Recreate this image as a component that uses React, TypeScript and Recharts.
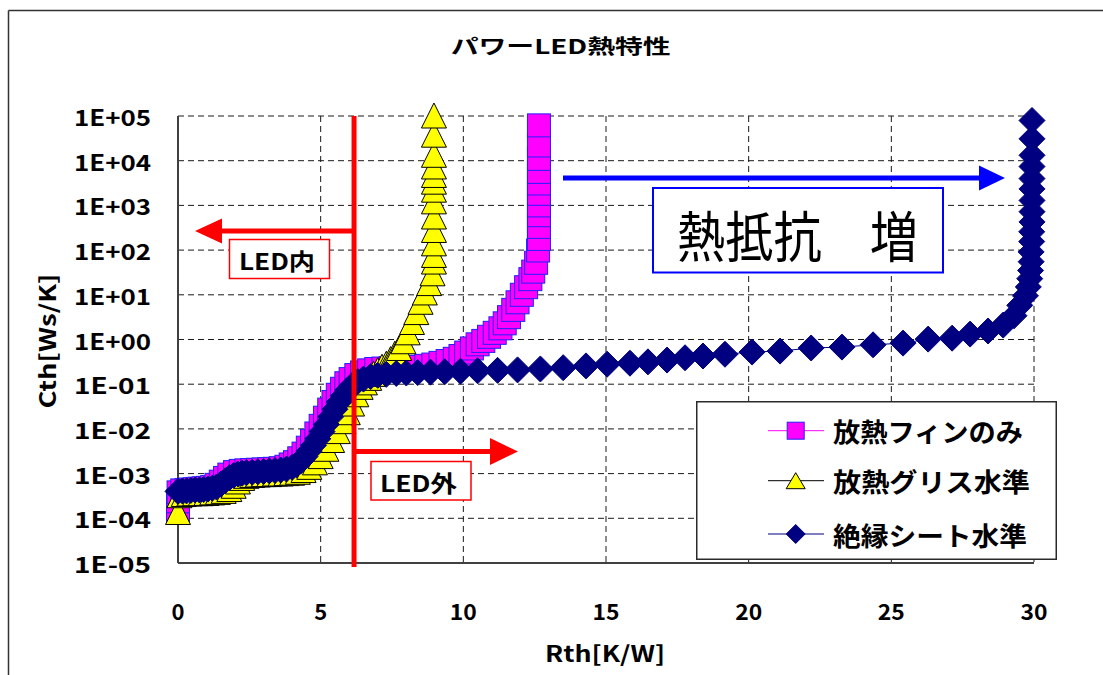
import React from 'react';
import { ScatterChart, Scatter, XAxis, YAxis, CartesianGrid, Legend } from 'recharts';

const W = 1103;
const H = 675;
const PLOT = { left: 178, top: 116, right: 1034, bottom: 563 };
const FONT = "'Noto Sans CJK JP', 'Noto Sans', sans-serif";

const chartTitle = 'パワーLED熱特性';
const xAxisTitle = 'Rth[K/W]';
const yAxisTitle = 'Cth[Ws/K]';

const xTicks = [0, 5, 10, 15, 20, 25, 30];
const xTickLabels = ['0', '5', '10', '15', '20', '25', '30'];
const yTicks = [1e-5, 1e-4, 1e-3, 1e-2, 1e-1, 1e0, 1e1, 1e2, 1e3, 1e4, 1e5];
const yTickLabels = ['1E-05', '1E-04', '1E-03', '1E-02', '1E-01', '1E+00', '1E+01', '1E+02', '1E+03', '1E+04', '1E+05'];

const seriesNames = ['放熱フィンのみ', '放熱グリス水準', '絶縁シート水準'];

// 放熱フィンのみ (magenta squares)
const finRth = [
  0.0, 0.0, 0.02, 0.15, 0.3, 0.45, 0.6, 0.75, 0.9, 1.05, 1.2, 1.35, 1.5, 1.65, 1.8, 2.0, 2.2, 2.4, 2.6, 2.8,
  3.0, 3.2, 3.4, 3.6, 3.8, 3.95, 4.1, 4.25, 4.4, 4.55, 4.7, 4.85, 5.0, 5.15, 5.3, 5.45, 5.6, 5.75, 5.9,
  6.05, 6.25, 6.45, 6.7, 6.95, 7.2, 7.45, 7.7, 7.95, 8.2, 8.45, 8.7, 8.95, 9.2, 9.45, 9.7, 9.9, 10.1, 10.3,
  10.5, 10.7, 10.9, 11.1, 11.3, 11.45, 11.6, 11.75, 11.9, 12.05, 12.2, 12.35, 12.45, 12.55, 12.62,
  12.65, 12.65, 12.65, 12.65, 12.65, 12.65, 12.65, 12.65, 12.65, 12.65,
];
const finCth = [
  1.4e-4, 2.4e-4, 3.8e-4, 4.2e-4, 4.3e-4, 4.4e-4, 4.5e-4, 4.6e-4, 4.7e-4, 4.8e-4, 5.0e-4, 5.6e-4, 6.6e-4, 8.0e-4, 9.5e-4, 1.08e-3, 1.15e-3, 1.18e-3, 1.2e-3, 1.22e-3,
  1.24e-3, 1.26e-3, 1.28e-3, 1.32e-3, 1.42e-3, 1.6e-3, 1.8e-3, 2.2e-3, 2.8e-3, 3.8e-3, 5.4e-3, 7.9e-3, 1.17e-2, 1.78e-2, 2.7e-2, 4.0e-2, 5.8e-2, 7.9e-2, 0.105,
  0.13, 0.16, 0.183, 0.204, 0.219, 0.224, 0.229, 0.234, 0.234, 0.24, 0.245, 0.257, 0.275, 0.3, 0.33, 0.37, 0.427, 0.51, 0.63,
  0.78, 0.93, 1.15, 1.41, 1.78, 2.3, 3.16, 4.6, 6.8, 10, 14.8, 22.4, 33, 52, 98,
  178, 331, 603, 1000, 1820, 3090, 5620, 11000, 21900, 61700,
];

// 放熱グリス水準 (yellow triangles)
const greaseRth = [
  0.0, 0.05, 0.2, 0.4, 0.6, 0.8, 1.0, 1.2, 1.4, 1.6, 1.8, 1.95, 2.1, 2.25, 2.4, 2.6, 2.8, 3.0, 3.2, 3.4,
  3.6, 3.8, 4.0, 4.2, 4.4, 4.6, 4.8, 5.0, 5.2, 5.4, 5.6, 5.8, 5.95, 6.1, 6.25, 6.4, 6.55, 6.7, 6.85, 7.0,
  7.15, 7.3, 7.45, 7.6, 7.75, 7.9, 8.05, 8.2, 8.35, 8.5, 8.65, 8.8, 8.92,
  8.97, 8.97, 8.97, 8.97, 8.97, 8.97, 8.97, 8.97, 8.97, 8.97, 8.97, 8.97, 8.97,
];
const greaseCth = [
  1.35e-4, 3.2e-4, 3.4e-4, 3.5e-4, 3.55e-4, 3.55e-4, 3.6e-4, 3.7e-4, 3.8e-4, 4.0e-4, 4.4e-4, 5.2e-4, 6.5e-4, 7.8e-4, 8.7e-4, 9.1e-4, 9.3e-4, 9.5e-4, 9.5e-4, 9.8e-4,
  9.8e-4, 1.0e-3, 1.02e-3, 1.07e-3, 1.17e-3, 1.38e-3, 1.74e-3, 2.4e-3, 3.5e-3, 5.5e-3, 8.7e-3, 1.45e-2, 2.3e-2, 3.6e-2, 5.8e-2, 8.5e-2, 0.107, 0.135, 0.166, 0.2,
  0.24, 0.28, 0.355, 0.47, 0.63, 0.89, 1.41, 2.4, 4.0, 6.8, 11, 17.8, 29.5,
  54, 76, 138, 275, 550, 1200, 2190, 3310, 4680, 7240, 13200, 37200, 100000,
];

// 絶縁シート水準 (navy diamonds)
const sheetRth = [
  0.0, 0.15, 0.3, 0.45, 0.6, 0.75, 0.9, 1.05, 1.2, 1.35, 1.5, 1.65, 1.8, 1.95, 2.1, 2.25, 2.4, 2.6, 2.8, 3.0,
  3.2, 3.4, 3.6, 3.8, 4.0, 4.15, 4.3, 4.45, 4.6, 4.75, 4.9, 5.05, 5.2, 5.35, 5.5, 5.65, 5.8, 5.95, 6.1, 6.3,
  6.5, 6.75, 7.0, 7.3, 7.65, 8.0, 8.4, 8.85, 9.35, 9.9, 10.5, 11.2, 11.9, 12.7, 13.5, 14.3,
  15.04, 15.84, 16.47, 17.14, 17.77, 18.4, 19.17, 20.12, 21.1, 22.19, 23.27, 24.36, 25.41, 26.29, 27.13,
  27.76, 28.39, 28.92, 29.3, 29.5, 29.7, 29.8, 29.85, 29.88, 29.9, 29.9, 29.92, 29.92, 29.93, 29.93,
  29.93, 29.93, 29.93, 29.93, 29.93, 29.93, 29.93,
];
const sheetCth = [
  4.0e-4, 4.1e-4, 4.1e-4, 4.2e-4, 4.3e-4, 4.3e-4, 4.4e-4, 4.5e-4, 4.7e-4, 5.0e-4, 5.8e-4, 6.9e-4, 8.1e-4, 9.1e-4, 9.8e-4, 1.02e-3, 1.05e-3, 1.07e-3, 1.1e-3, 1.12e-3,
  1.15e-3, 1.17e-3, 1.2e-3, 1.26e-3, 1.38e-3, 1.58e-3, 1.9e-3, 2.4e-3, 3.2e-3, 4.3e-3, 6.0e-3, 8.7e-3, 1.26e-2, 1.86e-2, 2.75e-2, 4.0e-2, 5.5e-2, 7.4e-2, 9.3e-2, 0.115,
  0.13, 0.148, 0.158, 0.166, 0.174, 0.178, 0.182, 0.186, 0.19, 0.195, 0.2, 0.204, 0.209, 0.219, 0.234, 0.257,
  0.28, 0.295, 0.316, 0.347, 0.39, 0.427, 0.468, 0.525, 0.55, 0.646, 0.676, 0.76, 0.83, 1.02, 1.07,
  1.32, 1.55, 2.1, 3.4, 5.8, 9.5, 15, 23, 35, 55, 91, 155, 257, 427, 724,
  1290, 2340, 3980, 7410, 13200, 30900, 79400,
];

const ledBoundaryRth = 6.17;

const finData = finRth.map((x, i) => ({ x, y: finCth[i] }));
const greaseData = greaseRth.map((x, i) => ({ x, y: greaseCth[i] }));
const sheetData = sheetRth.map((x, i) => ({ x, y: sheetCth[i] }));

const SquareMark = (p: any) => {
  if (p.cx == null || p.cy == null) return <g />;
  return <rect x={p.cx - 11.5} y={p.cy - 11.5} width={23} height={23} fill="#ff00ff" stroke="#2020ff" strokeWidth={1} />;
};
const TriMark = (p: any) => {
  if (p.cx == null || p.cy == null) return <g />;
  const { cx, cy } = p;
  return (
    <polygon
      points={`${cx},${cy - 13} ${cx + 12.5},${cy + 12} ${cx - 12.5},${cy + 12}`}
      fill="#ffff00"
      stroke="#000000"
      strokeWidth={1}
    />
  );
};
const DiaMark = (p: any) => {
  if (p.cx == null || p.cy == null) return <g />;
  const { cx, cy } = p;
  return (
    <polygon
      points={`${cx},${cy - 13} ${cx + 13},${cy} ${cx},${cy + 13} ${cx - 13},${cy}`}
      fill="#000080"
      stroke="#000080"
      strokeWidth={1}
    />
  );
};

const YTick = (props: any) => {
  const { y, payload } = props;
  const idx = yTicks.findIndex((v) => Math.abs(Math.log10(v) - Math.log10(payload.value)) < 1e-6);
  const label = idx >= 0 ? yTickLabels[idx] : String(payload.value);
  return (
    <text
      x={PLOT.left - 27}
      y={y}
      textAnchor="end"
      dominantBaseline="central"
      fontFamily={FONT}
      fontWeight={700}
      fontSize={22}
      fill="#000"
      textLength={77}
      lengthAdjust="spacingAndGlyphs"
    >
      {label}
    </text>
  );
};

const XTick = (props: any) => {
  const { x, payload } = props;
  const idx = xTicks.indexOf(payload.value);
  const label = idx >= 0 ? xTickLabels[idx] : String(payload.value);
  return (
    <text
      x={x}
      y={609.5}
      textAnchor="middle"
      dominantBaseline="central"
      fontFamily={FONT}
      fontWeight={700}
      fontSize={22}
      fill="#000"
      textLength={label.length * 14 - 1}
      lengthAdjust="spacingAndGlyphs"
    >
      {label}
    </text>
  );
};

const legendEntries = [
  { name: seriesNames[0], color: '#ff00ff', kind: 'square', textLen: 190 },
  { name: seriesNames[1], color: '#000000', kind: 'triangle', textLen: 197 },
  { name: seriesNames[2], color: '#000080', kind: 'diamond', textLen: 194 },
];
const legendRowY = [29.7, 79.7, 133];

const renderLegend = () => (
  <svg width={361} height={159} style={{ display: 'block' }}>
    <rect x={0.75} y={0.75} width={359.5} height={157.5} fill="#ffffff" stroke="#2a2a2a" strokeWidth={1.5} />
    {legendEntries.map((e, i) => {
      const cy = legendRowY[i];
      const cx = 99.7;
      let marker;
      if (e.kind === 'square') {
        marker = <rect x={cx - 8.5} y={cy - 8.5} width={17} height={17} fill="#ff00ff" stroke="#2020ff" strokeWidth={1} />;
      } else if (e.kind === 'triangle') {
        marker = (
          <polygon points={`${cx},${cy - 8} ${cx + 9.5},${cy + 8} ${cx - 9.5},${cy + 8}`} fill="#ffff00" stroke="#000" strokeWidth={1} />
        );
      } else {
        marker = (
          <polygon points={`${cx},${cy - 9.5} ${cx + 9.5},${cy} ${cx},${cy + 9.5} ${cx - 9.5},${cy}`} fill="#000080" stroke="#000080" strokeWidth={1} />
        );
      }
      return (
        <g key={e.name}>
          <line x1={72} y1={cy} x2={128} y2={cy} stroke={e.color} strokeWidth={1} />
          {marker}
          <text
            x={137}
            y={cy}
            dominantBaseline="central"
            fontFamily={FONT}
            fontWeight={700}
            fontSize={26}
            fill="#000"
            textLength={e.textLen}
            lengthAdjust="spacingAndGlyphs"
          >
            {e.name}
          </text>
        </g>
      );
    })}
  </svg>
);

export default function App() {
  const xLed = PLOT.left + (ledBoundaryRth / 30) * (PLOT.right - PLOT.left);
  return (
    <div style={{ position: 'fixed', left: 0, top: 0, width: W, height: H, overflow: 'hidden', background: '#ffffff' }}>
      <ScatterChart
        width={W}
        height={H}
        margin={{ top: PLOT.top, right: W - PLOT.right, left: 0, bottom: 52 }}
      >
        <CartesianGrid stroke="#1a1a1a" strokeDasharray="6 4" strokeWidth={1} />
        <XAxis
          type="number"
          dataKey="x"
          domain={[0, 30]}
          ticks={xTicks}
          height={H - PLOT.bottom - 52}
          tick={<XTick />}
          tickLine={false}
          tickSize={0}
          tickMargin={0}
          axisLine={{ stroke: '#404040', strokeWidth: 2 }}
          interval={0}
        />
        <YAxis
          type="number"
          dataKey="y"
          scale="log"
          domain={[1e-5, 1e5]}
          ticks={yTicks}
          width={PLOT.left}
          tick={<YTick />}
          tickLine={false}
          tickSize={0}
          tickMargin={0}
          axisLine={{ stroke: '#404040', strokeWidth: 2 }}
          interval={0}
        />
        <YAxis
          yAxisId="right"
          orientation="right"
          type="number"
          domain={[0, 1]}
          width={0}
          tick={false}
          tickLine={false}
          axisLine={{ stroke: '#8a8a8a', strokeWidth: 1.5 }}
        />
        <Legend
          layout="vertical"
          align="center"
          verticalAlign="middle"
          content={renderLegend}
          wrapperStyle={{ left: 696, top: 401, width: 361, height: 159 }}
        />
        <Scatter
          name={seriesNames[0]}
          data={finData}
          shape={SquareMark}
          line={{ stroke: '#ff00ff', strokeWidth: 1 }}
          lineType="joint"
          isAnimationActive={false}
        />
        <Scatter
          name={seriesNames[1]}
          data={greaseData}
          shape={TriMark}
          line={{ stroke: '#000000', strokeWidth: 1 }}
          lineType="joint"
          isAnimationActive={false}
        />
        <Scatter
          name={seriesNames[2]}
          data={sheetData}
          shape={DiaMark}
          line={{ stroke: '#000080', strokeWidth: 1 }}
          lineType="joint"
          isAnimationActive={false}
        />
      </ScatterChart>
      <svg width={W} height={H} style={{ position: 'absolute', left: 0, top: 0, pointerEvents: 'none' }}>
        <line x1={8.5} y1={10.5} x2={W} y2={10.5} stroke="#333" strokeWidth={1.5} />
        <line x1={8.5} y1={10.5} x2={8.5} y2={H} stroke="#333" strokeWidth={1.5} />
        <text
          x={560.7}
          y={45}
          textAnchor="middle"
          dominantBaseline="central"
          fontFamily={FONT}
          fontWeight={700}
          fontSize={20}
          fill="#000"
          textLength={220}
          lengthAdjust="spacingAndGlyphs"
        >
          {chartTitle}
        </text>
        <text
          transform="translate(46,341) rotate(-90)"
          textAnchor="middle"
          dominantBaseline="central"
          fontFamily={FONT}
          fontWeight={700}
          fontSize={22}
          fill="#000"
          textLength={135}
          lengthAdjust="spacingAndGlyphs"
        >
          {yAxisTitle}
        </text>
        <text
          x={605}
          y={652}
          textAnchor="middle"
          dominantBaseline="central"
          fontFamily={FONT}
          fontWeight={700}
          fontSize={22}
          fill="#000"
          textLength={120}
          lengthAdjust="spacingAndGlyphs"
        >
          {xAxisTitle}
        </text>

        {/* LED boundary */}
        <line x1={xLed} y1={PLOT.top} x2={xLed} y2={PLOT.bottom + 4} stroke="#ff0000" strokeWidth={5} />
        {/* left red arrow */}
        <line x1={xLed} y1={231} x2={220} y2={231} stroke="#ff0000" strokeWidth={5} />
        <polygon points="195,231 222,218.5 222,243.5" fill="#ff0000" />
        {/* right red arrow */}
        <line x1={xLed} y1={451.5} x2={492} y2={451.5} stroke="#ff0000" strokeWidth={5} />
        <polygon points="518,451.5 490,438 490,465" fill="#ff0000" />
        {/* LED内 box */}
        <rect x={229.5} y={239.5} width={100} height={39} fill="#fff" stroke="#ff0000" strokeWidth={1.5} />
        <text
          x={277}
          y={260}
          textAnchor="middle"
          dominantBaseline="central"
          fontFamily={FONT}
          fontWeight={700}
          fontSize={23}
          fill="#000"
          textLength={76}
          lengthAdjust="spacingAndGlyphs"
        >
          LED内
        </text>
        {/* LED外 box */}
        <rect x={371} y={461.5} width={100} height={38.5} fill="#fff" stroke="#ff0000" strokeWidth={1.5} />
        <text
          x={418.5}
          y={482}
          textAnchor="middle"
          dominantBaseline="central"
          fontFamily={FONT}
          fontWeight={700}
          fontSize={23}
          fill="#000"
          textLength={77}
          lengthAdjust="spacingAndGlyphs"
        >
          LED外
        </text>
        {/* blue arrow */}
        <line x1={563} y1={178} x2={982} y2={178} stroke="#0000ff" strokeWidth={5} />
        <polygon points="1005,178 979,165.5 979,190.5" fill="#0000ff" />
        {/* 熱抵抗 増 box */}
        <rect x={653} y={188} width={290} height={84.5} fill="#fff" stroke="#0000ff" strokeWidth={2} />
        <text
          transform="translate(797.5,233) scale(1,1.1)"
          textAnchor="middle"
          dominantBaseline="central"
          fontFamily={FONT}
          fontWeight={400}
          fontSize={50}
          fill="#000"
          textLength={241}
          lengthAdjust="spacingAndGlyphs"
        >
          熱抵抗　増
        </text>
      </svg>
    </div>
  );
}
